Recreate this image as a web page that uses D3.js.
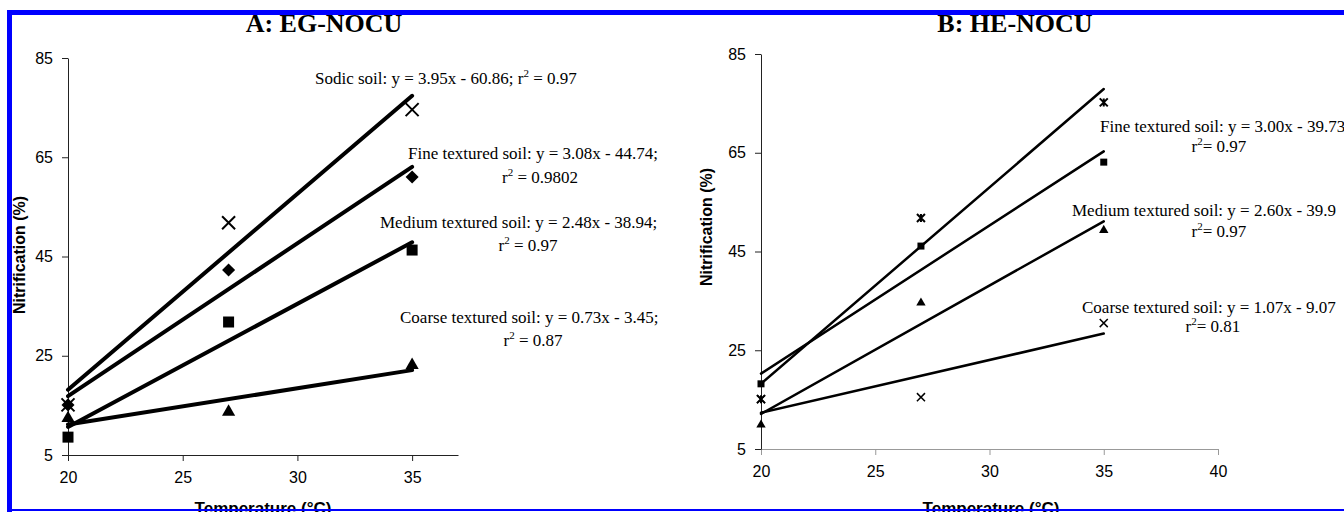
<!DOCTYPE html>
<html>
<head>
<meta charset="utf-8">
<script src="https://cdn.jsdelivr.net/npm/d3@7"></script>
<style>
    body { margin: 0; background: #fff; }
    svg { display: block; }
    .tick text { font-family: Arial, "Liberation Sans", sans-serif; font-size: 16px; fill: #000; }
    .note { font-family: "Times New Roman", "Liberation Serif", serif; font-size: 17px; fill: #000; }
    .title { font-family: "Times New Roman", "Liberation Serif", serif; font-size: 26px; font-weight: bold; }
    .axis-title { font-family: Arial, "Liberation Sans", sans-serif; font-weight: bold; fill: #000; }
</style>
</head>
<body>
<svg id="chart" width="1344" height="512"></svg>
<script>
// temperatures measured
var temps = [20, 27, 35]
var fitRange = [20, 35]
var yTicks = [5, 25, 45, 65, 85]
var xTicksA = [20, 25, 30, 35]
var xTicksB = [20, 25, 30, 35, 40]

// A: EG-NOCU, nitrification (%)
var aSodic = [15.1, 51.8, 74.6]
var aFine = [15.1, 42.3, 61.0]
var aMedium = [8.6, 31.8, 46.3]
var aCoarse = [12.4, 13.7, 23.1]
var aSlope = [3.95, 3.08, 2.48, 0.73]
var aIntercept = [-60.86, -44.74, -38.94, -3.45]
var aEq = ['Sodic soil: y = 3.95x - 60.86; ', 'Fine textured soil: y = 3.08x - 44.74;',
    'Medium textured soil: y = 2.48x - 38.94;', 'Coarse textured soil: y = 0.73x - 3.45;']
var aR2 = ['0.97', '0.9802', '0.97', '0.87']

// B: HE-NOCU, nitrification (%)
var bSodic = [15.1, 51.8, 75.2]
var bFine = [18.2, 46.1, 63.1]
var bMedium = [9.9, 34.6, 49.3]
var bCoarse = [15.1, 15.5, 30.5]
var bSlope = [3.98, 3.00, 2.60, 1.07]
var bIntercept = [-61.4, -39.73, -39.9, -9.07]
var bEq = ['Fine textured soil: y = 3.00x - 39.73', 'Medium textured soil: y = 2.60x - 39.9',
    'Coarse textured soil: y = 1.07x - 9.07']
var bR2 = ['0.97', '0.97', '0.81']

var svg = d3.select('#chart')

// excel style "*" marker: x with a vertical bar
var symbolStar = {
    draw: function(ctx, size) {
        var r = Math.sqrt(size) / 2
        ctx.moveTo(-r, -r); ctx.lineTo(r, r)
        ctx.moveTo(-r, r); ctx.lineTo(r, -r)
        ctx.moveTo(0, -r); ctx.lineTo(0, r)
    }
}

function drawPanel(p) {
    var g = svg.append('g')
    var x = d3.scaleLinear().domain(p.xDomain).range(p.xRange)
    var y = d3.scaleLinear().domain([5, 85]).range(p.yRange)

    var xAxis = g.append('g')
        .attr('transform', 'translate(0,' + p.yRange[0] + ')')
        .call(d3.axisBottom(x).tickValues(p.xTicks).tickSize(6).tickSizeOuter(0).tickPadding(11))
    xAxis.selectAll('path, line').attr('stroke', p.xAxisColor)

    var yAxis = g.append('g')
        .attr('transform', 'translate(' + p.xRange[0] + ',0)')
        .call(d3.axisLeft(y).tickValues(yTicks).tickSize(6).tickSizeOuter(0).tickPadding(9))
    yAxis.selectAll('path, line').attr('stroke', '#222')

    // fitted lines
    var line = d3.line()
        .x(function(d) { return x(d[0]) })
        .y(function(d) { return y(d[1]) })
    p.slope.forEach(function(k, i) {
        var pts = fitRange.map(function(t) { return [t, k * t + p.intercept[i]] })
        g.append('path')
            .attr('d', line(pts))
            .attr('fill', 'none')
            .attr('stroke', '#000')
            .attr('stroke-width', p.lineWidth)
            .attr('stroke-linecap', 'round')
    })

    // markers
    p.series.forEach(function(vals, i) {
        var m = p.markers[i]
        var sym = d3.symbol().type(m.type).size(m.size)
        g.selectAll(null).data(vals).enter().append('path')
            .attr('d', sym)
            .attr('transform', function(d, j) {
                return 'translate(' + x(temps[j]) + ',' + y(d) + ')' + (m.rotate ? ' rotate(45)' : '')
            })
            .attr('fill', m.stroke ? 'none' : '#000')
            .attr('stroke', m.stroke ? '#000' : 'none')
            .attr('stroke-width', m.stroke || 0)
    })

    g.append('text')
        .attr('class', 'title')
        .attr('x', p.titleX).attr('y', 32)
        .attr('text-anchor', 'middle')
        .text(p.title)

    // the figure is cropped through this title, as in the source
    g.append('text')
        .attr('class', 'axis-title')
        .attr('x', p.xTitleX).attr('y', 514)
        .attr('text-anchor', 'middle')
        .style('font-size', '17px')
        .text('Temperature (°C)')

    g.append('text')
        .attr('class', 'axis-title')
        .attr('transform', 'translate(' + p.yTitle[0] + ',' + p.yTitle[1] + ') rotate(-90)')
        .attr('text-anchor', 'middle')
        .style('font-size', '16px')
        .text('Nitrification (%)')

    return g
}

function r2(sel, value, sep) {
    sel.append('tspan').text('r')
    sel.append('tspan').attr('dy', -7).style('font-size', '11px').text('2')
    sel.append('tspan').attr('dy', 7).text(sep + value)
}

var gA = drawPanel({
    xDomain: [20, 37], xRange: [68, 458], yRange: [455, 58],
    xTicks: xTicksA, xAxisColor: '#222', lineWidth: 4,
    slope: aSlope, intercept: aIntercept,
    series: [aSodic, aFine, aMedium, aCoarse],
    markers: [
        { type: d3.symbolTimes, size: 112, stroke: 2 },
        { type: d3.symbolSquare, size: 85, rotate: true },
        { type: d3.symbolSquare, size: 121 },
        { type: d3.symbolTriangle, size: 75 }
    ],
    title: 'A: EG-NOCU', titleX: 324, xTitleX: 263, yTitle: [25, 255]
})

var gB = drawPanel({
    xDomain: [20, 40], xRange: [761, 1218], yRange: [449, 54],
    xTicks: xTicksB, xAxisColor: '#999', lineWidth: 2.5,
    slope: bSlope, intercept: bIntercept,
    series: [bSodic, bFine, bMedium, bCoarse],
    markers: [
        { type: symbolStar, size: 64, stroke: 2 },
        { type: d3.symbolSquare, size: 49 },
        { type: d3.symbolTriangle, size: 38 },
        { type: d3.symbolTimes, size: 44, stroke: 1.5 }
    ],
    title: 'B: HE-NOCU', titleX: 1015, xTitleX: 991, yTitle: [712, 227]
})

// equations, panel A
var sodic = gA.append('text').attr('class', 'note').attr('x', 315).attr('y', 84)
sodic.append('tspan').text(aEq[0])
r2(sodic, aR2[0], ' = ')

var aPos = [[408, 159, 540, 183], [380, 228, 528, 251], [400, 323, 533, 346]]
aPos.forEach(function(pos, i) {
    gA.append('text').attr('class', 'note').attr('x', pos[0]).attr('y', pos[1]).text(aEq[i + 1])
    var t = gA.append('text').attr('class', 'note').attr('x', pos[2]).attr('y', pos[3])
        .attr('text-anchor', 'middle')
    r2(t, aR2[i + 1], ' = ')
})

// equations, panel B
var bPos = [[1100, 132, 1219, 152], [1072, 216, 1219, 237], [1082, 313, 1213, 332]]
bPos.forEach(function(pos, i) {
    gB.append('text').attr('class', 'note').attr('x', pos[0]).attr('y', pos[1]).text(bEq[i])
    var t = gB.append('text').attr('class', 'note').attr('x', pos[2]).attr('y', pos[3])
        .attr('text-anchor', 'middle')
    r2(t, bR2[i], '= ')
})

// blue frame
svg.append('rect').attr('x', 7).attr('y', 10).attr('width', 1337).attr('height', 5).attr('fill', '#0000ff')
svg.append('rect').attr('x', 7).attr('y', 10).attr('width', 5).attr('height', 502).attr('fill', '#0000ff')
svg.append('rect').attr('x', 7).attr('y', 509).attr('width', 1337).attr('height', 2).attr('fill', '#0000ff')
</script>
</body>
</html>
